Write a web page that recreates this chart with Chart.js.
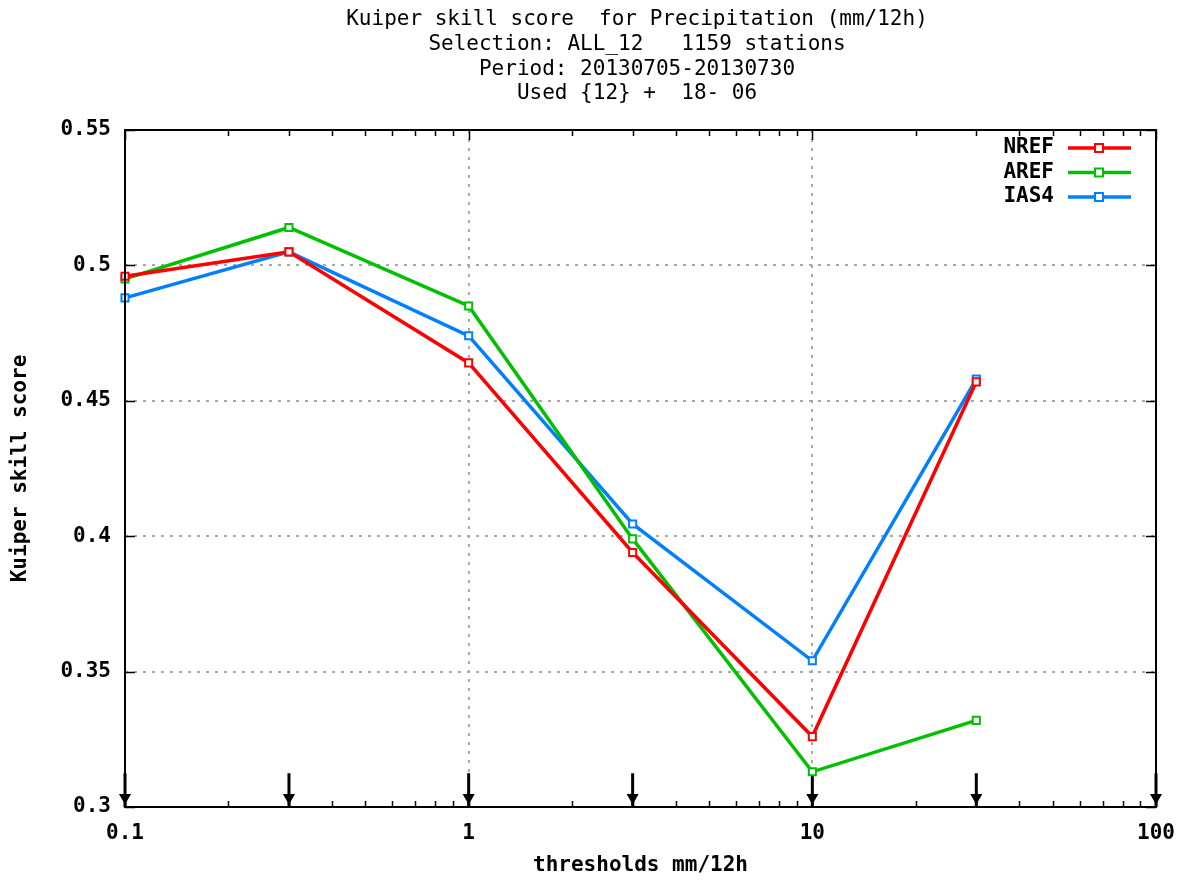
<!DOCTYPE html>
<html>
<head>
<meta charset="utf-8">
<script src="https://cdn.jsdelivr.net/npm/chart.js@4.4.0/dist/chart.umd.min.js"></script>
<style>
    body { margin: 0; background: #fff; }
</style>
</head>
<body>
<canvas id="grafico_kuiper" width="1189" height="882"></canvas>
<script>
// dados
var limiares = [0.1, 0.3, 1, 3, 10, 30];
var nref = [0.496, 0.505, 0.464, 0.394, 0.326, 0.457];
var aref = [0.495, 0.514, 0.485, 0.399, 0.313, 0.332];
var ias4 = [0.488, 0.505, 0.474, 0.4045, 0.354, 0.458];

var setas_x = [0.1, 0.3, 1, 3, 10, 30, 100];
var setas_y = [0.3125, 0.3035, 0.3];

var ticks_x = [0.1, 0.2, 0.3, 0.4, 0.5, 0.6, 0.7, 0.8, 0.9,
               1, 2, 3, 4, 5, 6, 7, 8, 9,
               10, 20, 30, 40, 50, 60, 70, 80, 90, 100];
var ticks_x_rotulo = [0.1, 1, 10, 100];
var ticks_y = [0.3, 0.35, 0.4, 0.45, 0.5, 0.55];

var titulo = [
    'Kuiper skill score  for Precipitation (mm/12h)',
    'Selection: ALL_12   1159 stations',
    'Period: 20130705-20130730',
    'Used {12} +  18- 06'
];

var fonte = "'DejaVu Sans Mono', 'Liberation Mono', monospace";

function montar_serie(valores) {
    var arr = [];
    for (var i = 0; i < limiares.length; i++) {
        arr.push({ x: limiares[i], y: valores[i] });
    }
    return arr;
}

function montar_setas() {
    var arr = [];
    for (var i = 0; i < setas_x.length; i++) {
        for (var j = 0; j < setas_y.length; j++) {
            arr.push({ x: setas_x[i], y: setas_y[j] });
        }
        arr.push({ x: setas_x[i], y: null });
    }
    return arr;
}

function serie(label, valores, cor) {
    return {
        label: label,
        data: montar_serie(valores),
        borderColor: cor,
        backgroundColor: '#fff',
        borderWidth: 3.5,
        pointStyle: 'rect',
        pointRadius: 5,
        pointBorderWidth: 2,
        pointBorderColor: cor,
        pointBackgroundColor: '#fff',
        tension: 0,
        clip: false
    };
}

// titulo no topo
var plugin_titulo = {
    id: 'titulo',
    afterDraw: function (chart) {
        var ctx = chart.ctx;
        ctx.save();
        ctx.fillStyle = '#000';
        ctx.font = '21px ' + fonte;
        ctx.textAlign = 'center';
        ctx.textBaseline = 'middle';
        var ys = [20, 45, 70, 94];
        for (var i = 0; i < titulo.length; i++) {
            ctx.fillText(titulo[i], 637, ys[i]);
        }
        ctx.restore();
    }
};

// moldura e marcas para dentro
var plugin_moldura = {
    id: 'moldura',
    afterDatasetsDraw: function (chart) {
        var ctx = chart.ctx;
        var a = chart.chartArea;
        var sx = chart.scales.x;
        var sy = chart.scales.y;
        ctx.save();
        ctx.strokeStyle = '#000';
        ctx.lineWidth = 1.5;
        for (var i = 0; i < ticks_x.length; i++) {
            var px = Math.round(sx.getPixelForValue(ticks_x[i])) + 0.5;
            var tam = ticks_x_rotulo.includes(ticks_x[i]) ? 10 : 6;
            ctx.beginPath();
            ctx.moveTo(px, a.bottom);
            ctx.lineTo(px, a.bottom - tam);
            ctx.moveTo(px, a.top);
            ctx.lineTo(px, a.top + tam);
            ctx.stroke();
        }
        for (var k = 0; k < ticks_y.length; k++) {
            var py = Math.round(sy.getPixelForValue(ticks_y[k])) + 0.5;
            ctx.beginPath();
            ctx.moveTo(a.left, py);
            ctx.lineTo(a.left + 10, py);
            ctx.moveTo(a.right, py);
            ctx.lineTo(a.right - 10, py);
            ctx.stroke();
        }
        ctx.lineWidth = 2;
        ctx.strokeRect(a.left, a.top, a.right - a.left, a.bottom - a.top);
        ctx.restore();
    }
};

// legenda dentro da area do grafico
var plugin_legenda = {
    id: 'legenda',
    afterDraw: function (chart) {
        var ctx = chart.ctx;
        ctx.save();
        ctx.font = 'bold 21px ' + fonte;
        ctx.textAlign = 'right';
        ctx.textBaseline = 'middle';
        for (var i = 0; i < 3; i++) {
            var ds = chart.data.datasets[i];
            var y = 148 + i * 24.5;
            ctx.fillStyle = '#000';
            ctx.fillText(ds.label, 1054, y);
            ctx.strokeStyle = ds.borderColor;
            ctx.lineWidth = 3.5;
            ctx.beginPath();
            ctx.moveTo(1068, y);
            ctx.lineTo(1131, y);
            ctx.stroke();
            ctx.fillStyle = '#fff';
            ctx.lineWidth = 2;
            ctx.fillRect(1095, y - 4, 8, 8);
            ctx.strokeRect(1095, y - 4, 8, 8);
        }
        ctx.restore();
    }
};

var data = {
    datasets: [
        serie('NREF', nref, '#ff0000'),
        serie('AREF', aref, '#00c000'),
        serie('IAS4', ias4, '#0080ff'),
        {
            label: 'setas',
            data: montar_setas(),
            borderColor: '#000',
            backgroundColor: '#000',
            borderWidth: 3,
            spanGaps: false,
            pointStyle: 'triangle',
            rotation: 180,
            pointRadius: function (c) { return c.dataIndex % 4 == 1 ? 4 : 0; },
            pointHoverRadius: 0,
            clip: false
        }
    ]
};

new Chart(document.getElementById('grafico_kuiper'), {
    type: 'line',
    data: data,
    plugins: [plugin_titulo, plugin_moldura, plugin_legenda],
    options: {
        responsive: false,
        animation: false,
        events: [],
        layout: { padding: { top: 130, right: 33, left: 0, bottom: 0 } },
        plugins: {
            legend: { display: false },
            tooltip: { enabled: false }
        },
        scales: {
            x: {
                type: 'logarithmic',
                min: 0.1,
                max: 100,
                afterBuildTicks: function (s) {
                    s.ticks = ticks_x.map(function (v) { return { value: v }; });
                },
                afterFit: function (s) { s.height = 75; },
                border: { display: false, dash: [3, 6] },
                grid: {
                    drawTicks: false,
                    color: function (c) {
                        var v = c.tick ? c.tick.value : 0;
                        return (v == 1 || v == 10) ? '#a8a8a8' : 'rgba(0,0,0,0)';
                    },
                    lineWidth: 2
                },
                ticks: {
                    autoSkip: false,
                    maxRotation: 0,
                    padding: 14,
                    color: '#000',
                    font: { family: fonte, size: 21, weight: 'bold' },
                    callback: function (v) {
                        return ticks_x_rotulo.includes(v) ? String(v) : '';
                    }
                },
                title: {
                    display: true,
                    text: 'thresholds mm/12h',
                    color: '#000',
                    font: { family: fonte, size: 21, weight: 'bold' },
                    padding: { top: 0, bottom: 4 }
                }
            },
            y: {
                min: 0.3,
                max: 0.55,
                afterBuildTicks: function (s) {
                    s.ticks = ticks_y.map(function (v) { return { value: v }; });
                },
                afterFit: function (s) { s.width = 125; },
                border: { display: false, dash: [3, 6] },
                grid: {
                    drawTicks: false,
                    color: function (c) {
                        var v = c.tick ? c.tick.value : 0;
                        return (v > 0.31 && v < 0.54) ? '#a8a8a8' : 'rgba(0,0,0,0)';
                    },
                    lineWidth: 2
                },
                ticks: {
                    padding: 14,
                    color: '#000',
                    font: { family: fonte, size: 21, weight: 'bold' },
                    callback: function (v) { return String(parseFloat(v.toFixed(2))); }
                },
                title: {
                    display: true,
                    text: 'Kuiper skill score',
                    color: '#000',
                    font: { family: fonte, size: 21, weight: 'bold' },
                    padding: { top: 8, bottom: 0 }
                }
            }
        }
    }
});
</script>
</body>
</html>
